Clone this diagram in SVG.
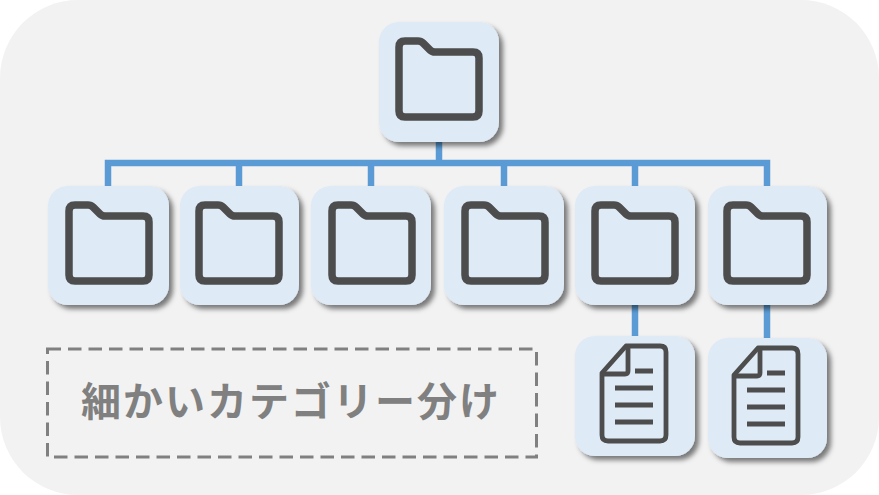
<svg xmlns="http://www.w3.org/2000/svg" width="879" height="495" viewBox="0 0 879 495">
<style>
.box{fill:#deeaf6;filter:url(#sh)}
.ic{fill:none;stroke:#4d4d4d;stroke-linejoin:round}
.f{stroke-width:7.500}
.d{stroke-width:4.800}
.c{fill:none;stroke:#5b9bd5;stroke-width:6.500}
</style>
<defs>
<filter id="sh" x="-15%" y="-15%" width="135%" height="135%"><feDropShadow dx="4" dy="4" stdDeviation="2.500" flood-color="#000" flood-opacity=".5"/></filter>
<path id="folder" class="ic f" d="M27 19H39q3 0 5 2L51 28q2 2 5 2H94q6 0 6 6V89q0 6-6 6H26q-6 0-6-6V25q0-6 6-6Z"/>
<g id="doc" class="ic d"><path d="M27 37 51 10H85q6 0 6 6V99q0 6-6 6H33q-6 0-6-6Z"/><path d="M53 10V35q0 3-3 3H27"/><path d="M60 35H78M40 52H78M40 69H78M40 86H78"/></g>
</defs>
<rect width="879" height="495" rx="78" fill="#f2f2f2"/>
<g id="connectors" class="c">
<path d="M439 142V163M108 186V163H767V186M239 163V186M371 163V186M504 163V186M635 163V186M635 305V336M767 305V338"/>
</g>
<g id="root"><rect class="box" x="379" y="22" width="120" height="120" rx="20"/><use href="#folder" transform="translate(379 22)"/></g>
<g id="cat1"><rect class="box" x="48" y="186" width="121" height="119" rx="20"/><use href="#folder" transform="translate(49 186)"/></g>
<g id="cat2"><rect class="box" x="180" y="186" width="119" height="119" rx="20"/><use href="#folder" transform="translate(179 186)"/></g>
<g id="cat3"><rect class="box" x="311" y="186" width="120" height="119" rx="20"/><use href="#folder" transform="translate(312 186)"/></g>
<g id="cat4"><rect class="box" x="444" y="186" width="120" height="119" rx="20"/><use href="#folder" transform="translate(445 186)"/></g>
<g id="cat5"><rect class="box" x="575" y="186" width="120" height="119" rx="20"/><use href="#folder" transform="translate(575 186)"/></g>
<g id="cat6"><rect class="box" x="708" y="186" width="119" height="119" rx="20"/><use href="#folder" transform="translate(707 186)"/></g>
<g id="doc1"><rect class="box" x="575" y="336" width="120" height="120" rx="20"/><use href="#doc" transform="translate(575 336)"/></g>
<g id="doc2"><rect class="box" x="708" y="338" width="119" height="120" rx="20"/><use href="#doc" transform="translate(707 338)"/></g>
<g id="label">
<rect x="47.500" y="349" width="489" height="108" fill="none" stroke="#808080" stroke-width="3" stroke-dasharray="13.500 7"/>
<text x="291" y="416" text-anchor="middle" font-family="'Noto Sans CJK JP','Noto Sans',sans-serif" font-size="40" font-weight="700" letter-spacing="2" fill="#808080">細かいカテゴリー分け</text>
</g>
</svg>
